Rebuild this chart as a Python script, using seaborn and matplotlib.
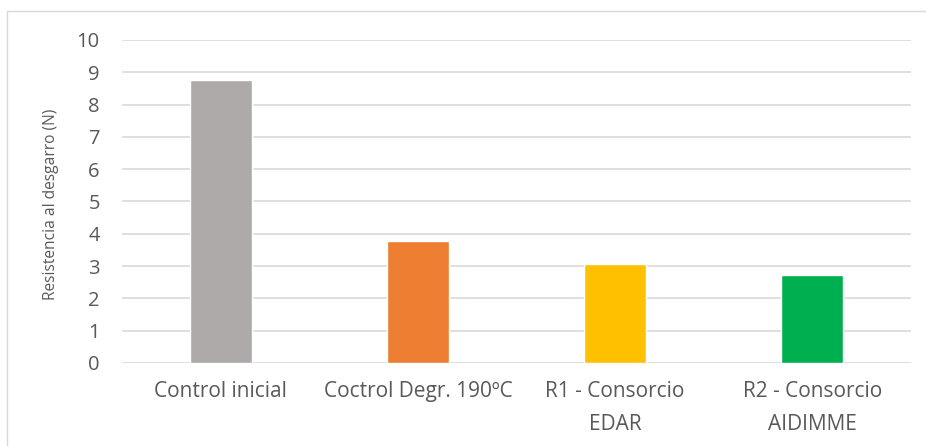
import matplotlib
matplotlib.use("Agg")
import matplotlib.pyplot as plt
import seaborn as sns
import pandas as pd
from matplotlib.patches import Rectangle

categories = ["Control inicial", "Coctrol Degr. 190ºC", "R1 - Consorcio\nEDAR", "R2 - Consorcio\nAIDIMME"]
values = [8.76, 3.78, 3.07, 2.73]
colors = ["#AEAAAA", "#ED7D31", "#FFC000", "#00B050"]
y_ticks = list(range(0, 11))
y_label = "Resistencia al desgarro (N)"

sns.set_theme(style="white")
plt.rcParams["font.family"] = ["Open Sans", "DejaVu Sans"]

df = pd.DataFrame({"cat": categories, "val": values})

fig = plt.figure(figsize=(9.26, 4.46), dpi=100)
ax = fig.add_axes([122 / 926, 1 - 363 / 446, (911 - 122) / 926, (363 - 40) / 446])

sns.barplot(data=df, x="cat", y="val", hue="cat", palette=colors, legend=False,
            width=0.315, ax=ax, saturation=1, zorder=3)

ax.set_ylim(0, 10)
ax.set_xlim(-0.5, len(categories) - 0.5)
ax.set_yticks(y_ticks)
ax.set_yticklabels([str(t) for t in y_ticks], fontsize=14.5, color="#595959")
ax.tick_params(axis="x", labelsize=15, labelcolor="#595959", length=0, pad=13)
ax.tick_params(axis="y", length=0, pad=16)
for lab in ax.get_xticklabels():
    lab.set_linespacing(1.75)
ax.yaxis.grid(True, color="#D9D9D9", linewidth=1.2, zorder=0)
ax.set_axisbelow(True)
for s in ax.spines.values():
    s.set_visible(False)
ax.set_xlabel("")
ax.set_ylabel(y_label, fontsize=11.2, color="#595959")
ax.yaxis.set_label_coords(-(122 - 59) / (911 - 122), 0.49)

# chart area border
fig.patches.append(Rectangle((7 / 926, -10 / 446), 940 / 926, 445 / 446, transform=fig.transFigure,
                             fill=False, edgecolor="#D9D9D9", linewidth=1))

fig.savefig("out.png", dpi=100)
